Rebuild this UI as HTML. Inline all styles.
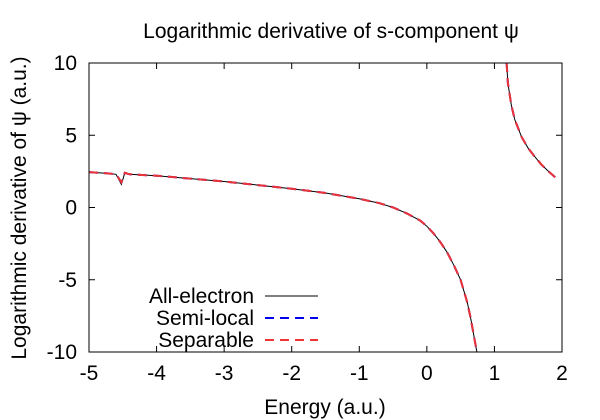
<!DOCTYPE html>
<html><head><meta charset="utf-8"><style>
body{margin:0;background:#fff;}
svg{display:block;font-family:"Liberation Sans",sans-serif;}
</style></head><body>
<svg id="chart" width="600" height="420">
<text x="331" y="38" font-size="21" text-anchor="middle">Logarithmic derivative of s-component ψ</text>
<text x="325" y="414" font-size="21" text-anchor="middle">Energy (a.u.)</text>
<text transform="translate(26,208) rotate(-90)" font-size="21" text-anchor="middle">Logarithmic derivative of ψ (a.u.)</text>
<g id="axes"></g>
<g id="series"></g>
<g id="legend"></g>
<rect x="89" y="63" width="473" height="289" fill="none" stroke="#000" stroke-width="1"/>
</svg>
<script>
const xTicks=[-5,-4,-3,-2,-1,0,1,2];
const yTicks=[-10,-5,0,5,10];
const aeX1=[-5,-4.7,-4.6,-4.52,-4.47,-4.4,-4,-3.5,-3,-2.5,-2,-1.5,-1,-0.7,-0.5,-0.3,-0.1,0,0.1,0.2,0.3,0.4,0.5,0.6,0.65,0.7,0.74];
const aeY1=[2.45,2.35,2.3,1.6,2.4,2.3,2.2,2.0,1.8,1.55,1.3,1.0,0.6,0.3,0.0,-0.4,-0.9,-1.3,-1.8,-2.4,-3.1,-4.0,-5.0,-6.6,-7.7,-9.0,-10];
const aeX2=[1.18,1.2,1.25,1.3,1.4,1.5,1.6,1.7,1.8,1.9];
const aeY2=[10,8.6,7.1,6.1,4.9,4.1,3.5,2.95,2.5,2.1];
const slY1=[2.45,2.35,2.3,1.75,2.4,2.3,2.2,2.0,1.8,1.55,1.3,1.0,0.6,0.3,0.0,-0.4,-0.9,-1.3,-1.8,-2.4,-3.1,-4.0,-5.0,-6.6,-7.7,-9.0,-10];
const spY1=[2.45,2.35,2.3,1.75,2.4,2.3,2.2,2.0,1.8,1.55,1.3,1.0,0.6,0.3,0.0,-0.4,-0.9,-1.3,-1.8,-2.4,-3.1,-4.0,-5.0,-6.6,-7.7,-9.0,-10];
const seriesNames=["All-electron","Semi-local","Separable"];

const NS="http://www.w3.org/2000/svg";
const L=89,R=562,T=63,B=352;
const sx=v=>L+(v+5)/7*(R-L);
const sy=v=>B-(v+10)/20*(B-T);
function mk(tag,attrs,parent){const e=document.createElementNS(NS,tag);for(const k in attrs)e.setAttribute(k,attrs[k]);parent.appendChild(e);return e;}
const axes=document.getElementById('axes');
xTicks.forEach(v=>{
  const x=sx(v);
  const t1=mk('line',{x1:x,x2:x,y1:B,y2:B-6,stroke:'#000'},axes);
  
  
  const t2=mk('line',{x1:x,x2:x,y1:T,y2:T+6,stroke:'#000'},axes);
  
  
  const tx=mk('text',{x:x,y:B+28,'font-size':21,'text-anchor':'middle'},axes);
  tx.textContent=v;
  
  
});
yTicks.forEach(v=>{
  const y=sy(v);
  const t1=mk('line',{x1:L,x2:L+6,y1:y,y2:y,stroke:'#000'},axes);
  
  
  const t2=mk('line',{x1:R,x2:R-6,y1:y,y2:y,stroke:'#000'},axes);
  
  
  const tx=mk('text',{x:L-12,y:y+7,'font-size':21,'text-anchor':'end'},axes);
  tx.textContent=v;
  
  
});
const ser=document.getElementById('series');
const styles=[{stroke:'#000','stroke-width':1},{stroke:'#0000ee','stroke-width':2,'stroke-dasharray':'9,6'},{stroke:'#ee3333','stroke-width':2,'stroke-dasharray':'9,6'}];
const branch1=[aeY1,slY1,spY1];
function pts(xs,ys){return xs.map((x,i)=>sx(x).toFixed(1)+','+sy(ys[i]).toFixed(1)).join(' ');}
[0,1,2].forEach(i=>{
  const p1=mk('polyline',Object.assign({points:pts(aeX1,branch1[i]),fill:'none'},styles[i]),ser);
  
  
  const p2=mk('polyline',Object.assign({points:pts(aeX2,aeY2),fill:'none'},styles[i]),ser);
  
  
});
const leg=document.getElementById('legend');
seriesNames.forEach((n,i)=>{
  const y=296+i*22;
  const t=mk('text',{x:254,y:y+7,'font-size':21,'text-anchor':'end'},leg);
  t.textContent=n;
  
  
  const l=mk('line',Object.assign({x1:265,x2:318,y1:y,y2:y},styles[i]),leg);
  
  
});
</script>
</body></html>
